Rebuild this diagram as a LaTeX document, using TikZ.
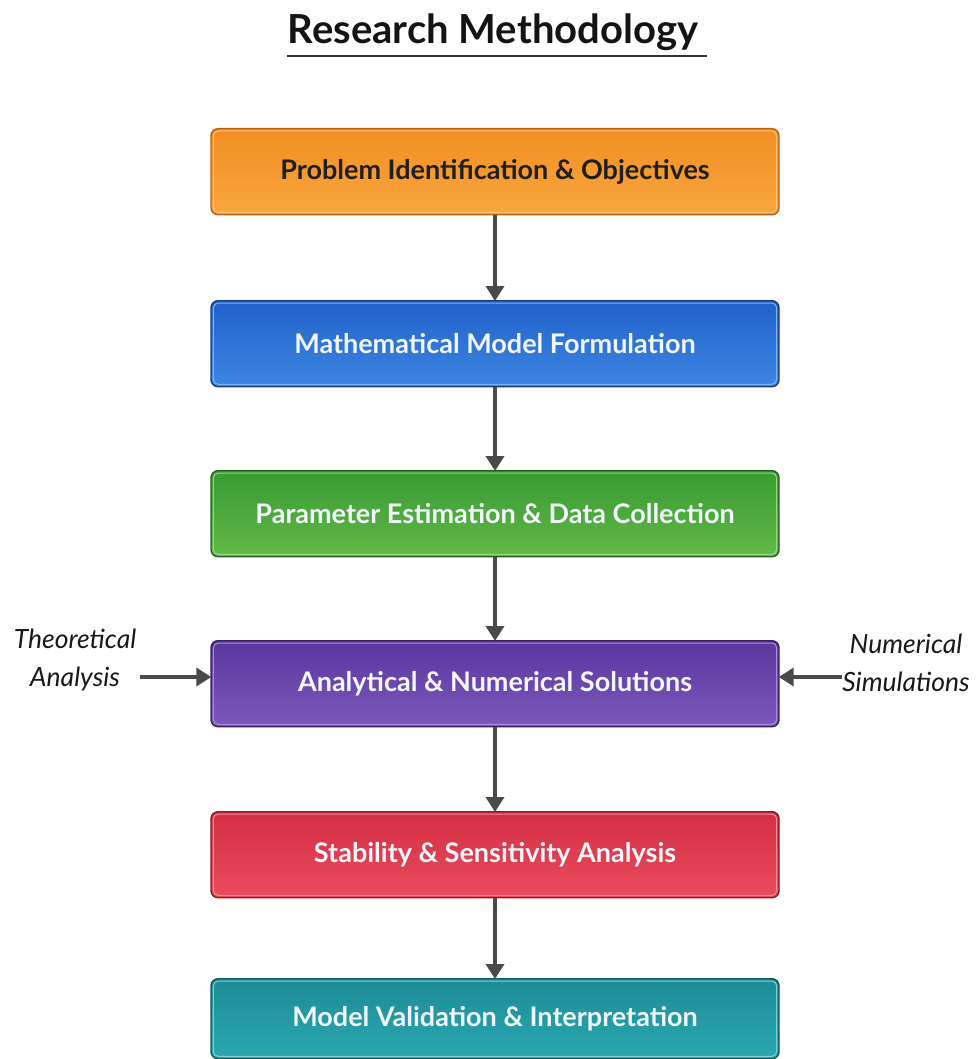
\documentclass[tikz,border=0pt]{standalone}
\usepackage{fontspec}
\setmainfont{Lato}
\usetikzlibrary{arrows.meta,calc}
\definecolor{orT}{HTML}{F28E22}\definecolor{orB}{HTML}{F8A63E}\definecolor{orD}{HTML}{B8620F}\definecolor{orL}{HTML}{FBC27A}
\definecolor{blT}{HTML}{2262CB}\definecolor{blB}{HTML}{3C86E2}\definecolor{blD}{HTML}{173E7C}\definecolor{blL}{HTML}{7FB2F0}
\definecolor{grT}{HTML}{389A33}\definecolor{grB}{HTML}{62B947}\definecolor{grD}{HTML}{24621F}\definecolor{grL}{HTML}{9AD584}
\definecolor{puT}{HTML}{5A379C}\definecolor{puB}{HTML}{7A58BC}\definecolor{puD}{HTML}{352060}\definecolor{puL}{HTML}{A68BDB}
\definecolor{reT}{HTML}{D42F45}\definecolor{reB}{HTML}{EA4B5C}\definecolor{reD}{HTML}{821A28}\definecolor{reL}{HTML}{F38C97}
\definecolor{teT}{HTML}{1C8C97}\definecolor{teB}{HTML}{2BA8B0}\definecolor{teD}{HTML}{12575E}\definecolor{teL}{HTML}{7FCFD4}
\definecolor{arrowgray}{HTML}{4A4A4A}
\definecolor{boxtxt}{HTML}{F2F6FA}
\tikzset{
  stagebox/.style n args={3}{draw=#3, line width=1.4pt, rounded corners=7pt,
    top color=#1, bottom color=#2, minimum width=568pt, minimum height=86pt,
    anchor=north, font=\fontsize{27}{32}\selectfont\bfseries, text=boxtxt, inner sep=0pt},
  flowarrow/.style={draw=arrowgray, line width=3.6pt, -{Triangle[width=18pt,length=15pt]}, shorten >=-1pt},
  sidelabel/.style={font=\fontsize{26.5}{38}\selectfont\itshape, align=center, text=black!90, inner sep=0pt},
  innerline/.style={draw=#1, line width=1pt, rounded corners=5pt}
}
\newcommand{\innerframe}[2]{\draw[innerline=#2] ($(#1.north west)+(3pt,-3pt)$) rectangle ($(#1.south east)+(-3pt,3pt)$);}
\begin{document}
\begin{tikzpicture}[x=1pt,y=-1pt]
\useasboundingbox[fill=white] (0,0) rectangle (977,1059);
\node[font=\fontsize{40}{44}\selectfont\bfseries, text=black!92, inner sep=0pt] (title) at (493,32) {Research Methodology};
\draw[line width=2pt, black!80] (287,56) -- (707,56);

\node[stagebox={orT}{orB}{orD}, text=black!88] (s1) at (495,128) {Problem Identification \& Objectives};
\node[stagebox={blT}{blB}{blD}] (s2) at (495,300) {Mathematical Model Formulation};
\node[stagebox={grT}{grB}{grD}] (s3) at (495,470) {Parameter Estimation \& Data Collection};
\node[stagebox={puT}{puB}{puD}] (s4) at (495,640) {Analytical \& Numerical Solutions};
\node[stagebox={reT}{reB}{reD}] (s5) at (495,811) {Stability \& Sensitivity Analysis};
\node[stagebox={teT}{teB}{teD}, minimum height=80pt] (s6) at (495,978) {Model Validation \& Interpretation};
\innerframe{s1}{orL}\innerframe{s2}{blL}\innerframe{s3}{grL}
\innerframe{s4}{puL}\innerframe{s5}{reL}\innerframe{s6}{teL}

\draw[flowarrow] (s1) -- (s2);
\draw[flowarrow] (s2) -- (s3);
\draw[flowarrow] (s3) -- (s4);
\draw[flowarrow] (s4) -- (s5);
\draw[flowarrow] (s5) -- (s6);

\node[sidelabel] (theo) at (75,660) {Theoretical\\Analysis};
\node[sidelabel] (numsim) at (906,663) {Numerical\\Simulations};
\coordinate (theoEnd) at (140,677);
\coordinate (numEnd) at (842,677);
\draw[flowarrow] (theoEnd) -- (theoEnd -| s4.west);
\draw[flowarrow] (numEnd) -- (numEnd -| s4.east);
\end{tikzpicture}
\end{document}
